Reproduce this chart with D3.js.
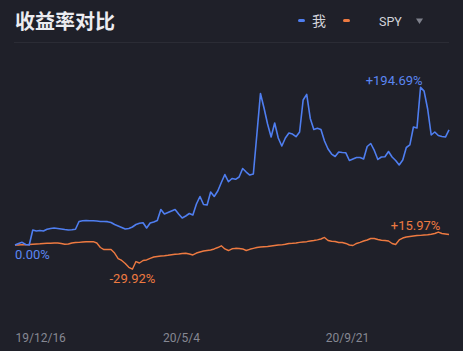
<!DOCTYPE html>
<html lang="zh">
<head>
<meta charset="utf-8">
<title>收益率对比</title>
<script src="https://d3js.org/d3.v7.min.js"></script>
<style>
  html, body { margin: 0; padding: 0; background: #1f2029; }
  svg { display: block; }
  .axis text { font-family: Roboto, sans-serif; font-size: 12px; fill: #868893; }
  .axis path, .axis line { display: none; }
  .pct { font-family: Roboto, sans-serif; font-size: 13px; }
</style>
</head>
<body>
<script>
// data, one point every 3 days from 2019-12-16
const startDate = new Date(2019, 11, 16);
const stepDays = 3;
const seriesNames = ["我", "SPY"];
const mine = [
  0, 1.9, 3.3, 0.6, 0, 18.5, 17.3, 17.9, 17.3, 19.4,
  20.4, 21.0, 20.4, 19.8, 19.1, 18.5, 18.8, 19.4, 29.0, 30.0,
  30.2, 30.0, 30.0, 29.6, 29.0, 29.0, 28.8, 27.8, 25.3, 23.5,
  21.6, 19.8, 20.4, 22.2, 25.3, 26.8, 27.5, 21.0, 27.2, 28.4,
  30.2, 43.8, 38.3, 40.1, 42.0, 43.8, 38.3, 33.3, 35.8, 38.9,
  37.0, 50.6, 59.9, 50.0, 49.4, 65.4, 59.9, 66.7, 77.2, 87.0,
  78.1, 82.1, 81.1, 84.0, 94.4, 90.1, 86.4, 87.7, 137.0, 187.0,
  169.1, 149.4, 133.3, 150.6, 132.1, 122.2, 132.1, 138.3, 137.0, 133.7,
  139.5, 179.0, 186.0, 156.2, 142.6, 144.1, 142.6, 128.4, 118.5, 112.3,
  109.3, 114.8, 114.2, 113.8, 104.3, 106.2, 108.0, 108.0, 106.2, 121.6,
  125.3, 116.7, 105.6, 108.6, 109.0, 115.4, 108.6, 104.3, 98.8, 104.9,
  120.4, 123.5, 145.7, 144.4, 194.69, 190.0, 167.9, 135.8, 139.5, 135.2,
  134.0, 133.3, 142.0
];
const spy = [
  0, 0, 0.4, 0.2, 0.6, 0.9, 1.2, 1.5, 1.9, 2.1,
  2.1, 2.5, 2.5, 1.9, 0.9, 1.2, 2.5, 3.1, 3.3, 3.7,
  4.0, 4.1, 4.1, 2.5, -3.1, -5.6, -5.6, -5.6, -9.9, -16.7,
  -19.1, -22.8, -27.5, -29.92, -20.4, -22.2, -19.1, -18.5, -16.4, -14.8,
  -14.2, -13.6, -13.3, -12.7, -12.0, -11.5, -11.1, -10.5, -10.2, -11.1,
  -12.3, -9.9, -8.6, -7.4, -6.8, -6.2, -4.9, -3.1, -1.0, -4.9,
  -6.8, -4.7, -4.1, -4.3, -4.9, -6.8, -5.3, -4.1, -3.1, -2.5,
  -2.1, -1.9, -1.2, -0.6, 0, 0.2, 0.9, 1.9, 2.1, 2.5,
  3.3, 3.7, 4.1, 4.9, 5.6, 6.4, 7.4, 9.3, 5.6, 4.6,
  4.3, 3.1, 3.1, 1.9, 0, -0.6, 1.9, 3.3, 4.9, 6.2,
  8.0, 8.0, 6.8, 5.8, 5.6, 4.9, 1.9, 0.6, 6.2, 8.6,
  9.9, 10.5, 11.1, 11.7, 11.9, 12.3, 12.6, 13.3, 14.2, 15.97,
  14.2, 13.6, 13.0
];
const tickDates = ["2019-12-16", "2020-05-04", "2020-09-21"];
const tickLabels = ["19/12/16", "20/5/4", "20/9/21"];

const width = 463, height = 351;
const blue = "#4f7ef0", orange = "#ee7a41";

const dates = mine.map((d, i) => d3.timeDay.offset(startDate, i * stepDays));
const parse = d3.timeParse("%Y-%m-%d");

const x = d3.scaleTime()
  .domain([startDate, dates[dates.length - 1]])
  .range([15, 449]);
const y = d3.scaleLinear()
  .domain([-50, 220])
  .range([285.5, 66.8]);

const svg = d3.select("body").append("svg")
  .attr("width", width)
  .attr("height", height);

svg.append("rect").attr("width", width).attr("height", height).attr("fill", "#1f2029");

// title + legend
svg.append("text")
  .attr("x", 15).attr("y", 29)
  .attr("font-family", "'Noto Sans CJK SC', sans-serif")
  .attr("font-size", 20).attr("font-weight", 700)
  .attr("fill", "#ececf0")
  .text("收益率对比");

svg.append("line")
  .attr("x1", 14).attr("x2", 449).attr("y1", 42.5).attr("y2", 42.5)
  .attr("stroke", "#2b2c35").attr("stroke-width", 1);

const legend = [
  { name: seriesNames[0], color: blue, x: 298, tx: 312 },
  { name: seriesNames[1], color: orange, x: 343, tx: 379 }
];
legend.forEach(l => {
  svg.append("line")
    .attr("x1", l.x + 1.5).attr("x2", l.x + 5.5).attr("y1", 20.5).attr("y2", 20.5)
    .attr("stroke", l.color).attr("stroke-width", 3).attr("stroke-linecap", "round");
  svg.append("text")
    .attr("x", l.tx).attr("y", 26)
    .attr("font-family", l.name === "SPY" ? "Roboto, sans-serif" : "'Noto Sans CJK SC', sans-serif")
    .attr("font-size", l.name === "SPY" ? 12.5 : 14)
    .attr("fill", "#d2d3da")
    .text(l.name);
});
svg.append("path")
  .attr("d", "M416,18.5 L423,18.5 L419.5,24 Z")
  .attr("fill", "#7e808b");

// x axis
const xAxis = d3.axisBottom(x)
  .tickValues(tickDates.map(parse))
  .tickFormat((d, i) => tickLabels[i])
  .tickSize(0);
const gx = svg.append("g")
  .attr("class", "axis")
  .attr("transform", "translate(0,330)")
  .call(xAxis);
gx.selectAll("text").attr("dy", "0.75em")
  .attr("text-anchor", (d, i) => i === 0 ? "start" : "middle");

// lines
const line = d3.line()
  .x((d, i) => x(dates[i]))
  .y(d => y(d));

svg.append("path").datum(spy)
  .attr("d", line).attr("fill", "none")
  .attr("stroke", orange).attr("stroke-width", 1.4).attr("stroke-linejoin", "round");
svg.append("path").datum(mine)
  .attr("d", line).attr("fill", "none")
  .attr("stroke", blue).attr("stroke-width", 1.6).attr("stroke-linejoin", "round");

// value labels
const fmt = v => (v > 0 ? "+" : "") + v.toFixed(2) + "%";
const iMax = d3.maxIndex(mine);
svg.append("text").attr("class", "pct")
  .attr("x", x(dates[iMax]) + 2).attr("y", y(mine[iMax]) - 2)
  .attr("text-anchor", "end").attr("fill", "#5b86f2")
  .text(fmt(mine[iMax]));
svg.append("text").attr("class", "pct")
  .attr("x", x(dates[0])).attr("y", y(mine[0]) + 14)
  .attr("fill", "#5b86f2")
  .text(fmt(mine[0]));

const sMax = d3.maxIndex(spy), sMin = d3.minIndex(spy);
svg.append("text").attr("class", "pct")
  .attr("x", x(dates[sMax]) + 2).attr("y", y(spy[sMax]) - 2)
  .attr("text-anchor", "end").attr("fill", orange)
  .text(fmt(spy[sMax]));
svg.append("text").attr("class", "pct")
  .attr("x", x(dates[sMin])).attr("y", y(spy[sMin]) + 14)
  .attr("text-anchor", "middle").attr("fill", orange)
  .text(fmt(spy[sMin]));
</script>
</body>
</html>
